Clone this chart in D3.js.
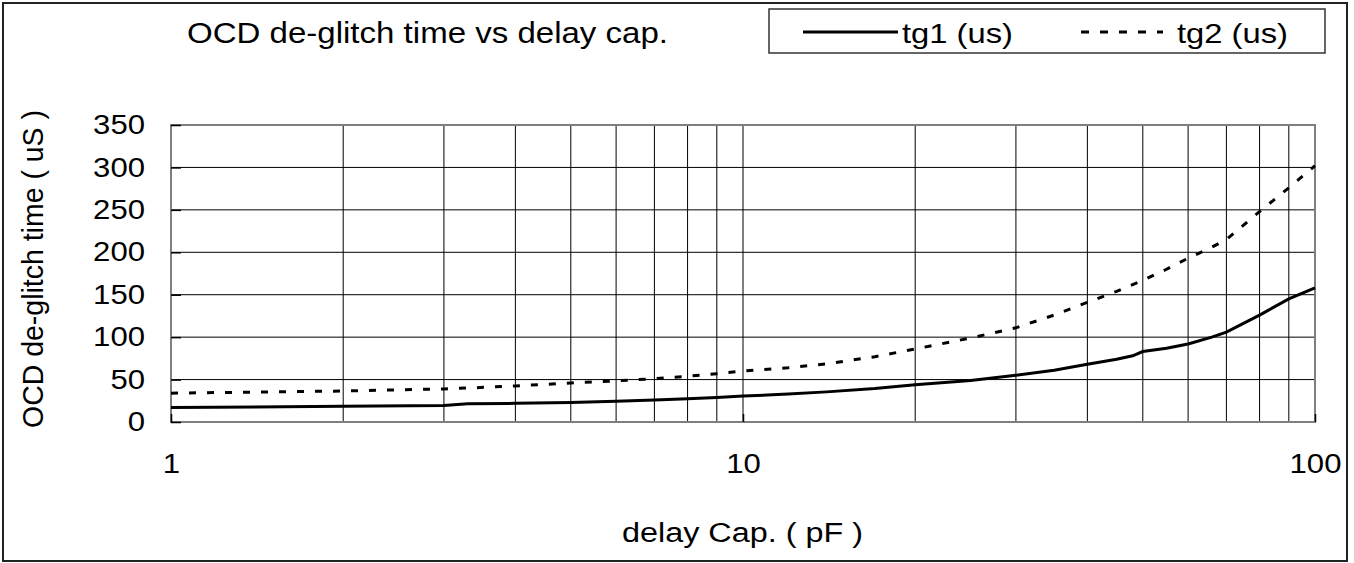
<!DOCTYPE html>
<html>
<head>
<meta charset="utf-8">
<script src="https://cdn.jsdelivr.net/npm/d3@7"></script>
<style>
  body { margin: 0; background: #fff; }
  text { font-family: "Liberation Sans", Arial, sans-serif; fill: #000; }
</style>
</head>
<body>
<svg id="chart"></svg>
<script>
// delay cap (pF) and de-glitch times
var capPF = [1, 2, 3, 3.3, 4, 5, 6, 7, 8, 9, 10, 12, 14, 17, 20, 25, 30, 35, 40, 45, 48, 50, 55, 60, 66, 70, 80, 90, 100];
var tg1 = [17, 18.5, 19.5, 21.5, 22, 23, 24.5, 26, 27.5, 29, 30.5, 33, 35.5, 39.5, 44, 49, 55, 61, 68, 74, 78, 83, 87, 92, 100, 106, 126, 145, 158];
var tg2 = [34, 36.5, 39, 40, 42.5, 46, 48.5, 51, 54, 57, 60, 64, 68.5, 77, 86, 99, 111, 126, 141, 154, 162, 167, 180, 193, 206, 215, 248, 276, 302];
var yTicks = [0, 50, 100, 150, 200, 250, 300, 350];
var xTicks = [1, 10, 100];
var xGrid = [2, 3, 4, 5, 6, 7, 8, 9, 10, 20, 30, 40, 50, 60, 70, 80, 90];

var svgWidth = 1354, svgHeight = 563;
var plotLeft = 171, plotRight = 1315, plotTop = 125, plotBottom = 422;

var svg = d3.select("#chart")
    .attr("width", svgWidth)
    .attr("height", svgHeight);

// outer frame
svg.append("rect")
    .attr("x", 3).attr("y", 3)
    .attr("width", 1344).attr("height", 558)
    .attr("fill", "none")
    .attr("stroke", "#222")
    .attr("stroke-width", 2);

var xScale = d3.scaleLog()
    .domain([1, 100])
    .range([plotLeft, plotRight]);

var yScale = d3.scaleLinear()
    .domain([0, 350])
    .range([plotBottom, plotTop]);

// grid lines
svg.append("g").selectAll("line")
    .data(xGrid)
    .enter().append("line")
    .attr("x1", function(d) { return xScale(d); })
    .attr("x2", function(d) { return xScale(d); })
    .attr("y1", plotTop).attr("y2", plotBottom)
    .attr("stroke", "#000")
    .attr("stroke-width", 1);

svg.append("g").selectAll("line")
    .data(yTicks.slice(1, -1))
    .enter().append("line")
    .attr("x1", plotLeft).attr("x2", plotRight)
    .attr("y1", function(d) { return yScale(d); })
    .attr("y2", function(d) { return yScale(d); })
    .attr("stroke", "#000")
    .attr("stroke-width", 1);

// plot border
svg.append("rect")
    .attr("x", plotLeft).attr("y", plotTop)
    .attr("width", plotRight - plotLeft).attr("height", plotBottom - plotTop)
    .attr("fill", "none")
    .attr("stroke", "#7f7f7f")
    .attr("stroke-width", 2);

// axes: short inward ticks plus labels
var y_axis = d3.axisLeft(yScale)
    .tickValues(yTicks)
    .tickSizeInner(-10)
    .tickSizeOuter(0)
    .tickPadding(26);

svg.append("g")
    .attr("transform", "translate(" + plotLeft + ",0)")
    .call(y_axis);

var x_axis = d3.axisBottom(xScale)
    .tickValues(xTicks)
    .tickFormat(d3.format("d"))
    .tickSizeInner(-8)
    .tickSizeOuter(0)
    .tickPadding(32);

svg.append("g")
    .attr("transform", "translate(0," + plotBottom + ")")
    .call(x_axis);

svg.selectAll(".domain").remove();
svg.selectAll(".tick line").attr("stroke", "#000").attr("stroke-width", 1.5);
svg.selectAll(".tick text")
    .attr("font-size", 27)
    .attr("font-family", "Liberation Sans, Arial, sans-serif")
    .attr("fill", "#000")
    .attr("textLength", function(d) { return String(d).length * 17.3; })
    .attr("lengthAdjust", "spacingAndGlyphs");

// series
var seriesLine = d3.line()
    .x(function(d, i) { return xScale(capPF[i]); })
    .y(function(d) { return yScale(d); });

svg.append("path")
    .datum(tg1)
    .attr("d", seriesLine)
    .attr("fill", "none")
    .attr("stroke", "#000")
    .attr("stroke-width", 3);

svg.append("path")
    .datum(tg2)
    .attr("d", seriesLine)
    .attr("fill", "none")
    .attr("stroke", "#000")
    .attr("stroke-width", 3)
    .attr("stroke-dasharray", "7,11");

// titles
svg.append("text")
    .attr("x", 187).attr("y", 43)
    .attr("font-size", 29)
    .attr("textLength", 481)
    .attr("lengthAdjust", "spacingAndGlyphs")
    .text("OCD de-glitch time vs delay cap.");

svg.append("text")
    .attr("x", 622).attr("y", 542)
    .attr("font-size", 27)
    .attr("textLength", 241)
    .attr("lengthAdjust", "spacingAndGlyphs")
    .text("delay Cap. ( pF )");

svg.append("text")
    .attr("transform", "translate(43,428) rotate(-90)")
    .attr("font-size", 29)
    .attr("textLength", 318)
    .attr("lengthAdjust", "spacingAndGlyphs")
    .text("OCD de-glitch time ( uS )");

// legend
var legend = svg.append("g");
legend.append("rect")
    .attr("x", 769).attr("y", 9)
    .attr("width", 556).attr("height", 44)
    .attr("fill", "#fff")
    .attr("stroke", "#333")
    .attr("stroke-width", 1.5);

legend.append("line")
    .attr("x1", 803).attr("x2", 898)
    .attr("y1", 32).attr("y2", 32)
    .attr("stroke", "#000").attr("stroke-width", 3);

legend.append("text")
    .attr("x", 902).attr("y", 43)
    .attr("font-size", 28)
    .attr("textLength", 111)
    .attr("lengthAdjust", "spacingAndGlyphs")
    .text("tg1 (us)");

legend.append("line")
    .attr("x1", 1081).attr("x2", 1163)
    .attr("y1", 32).attr("y2", 32)
    .attr("stroke", "#000").attr("stroke-width", 3)
    .attr("stroke-dasharray", "8,11");

legend.append("text")
    .attr("x", 1177).attr("y", 43)
    .attr("font-size", 28)
    .attr("textLength", 111)
    .attr("lengthAdjust", "spacingAndGlyphs")
    .text("tg2 (us)");
</script>
</body>
</html>
